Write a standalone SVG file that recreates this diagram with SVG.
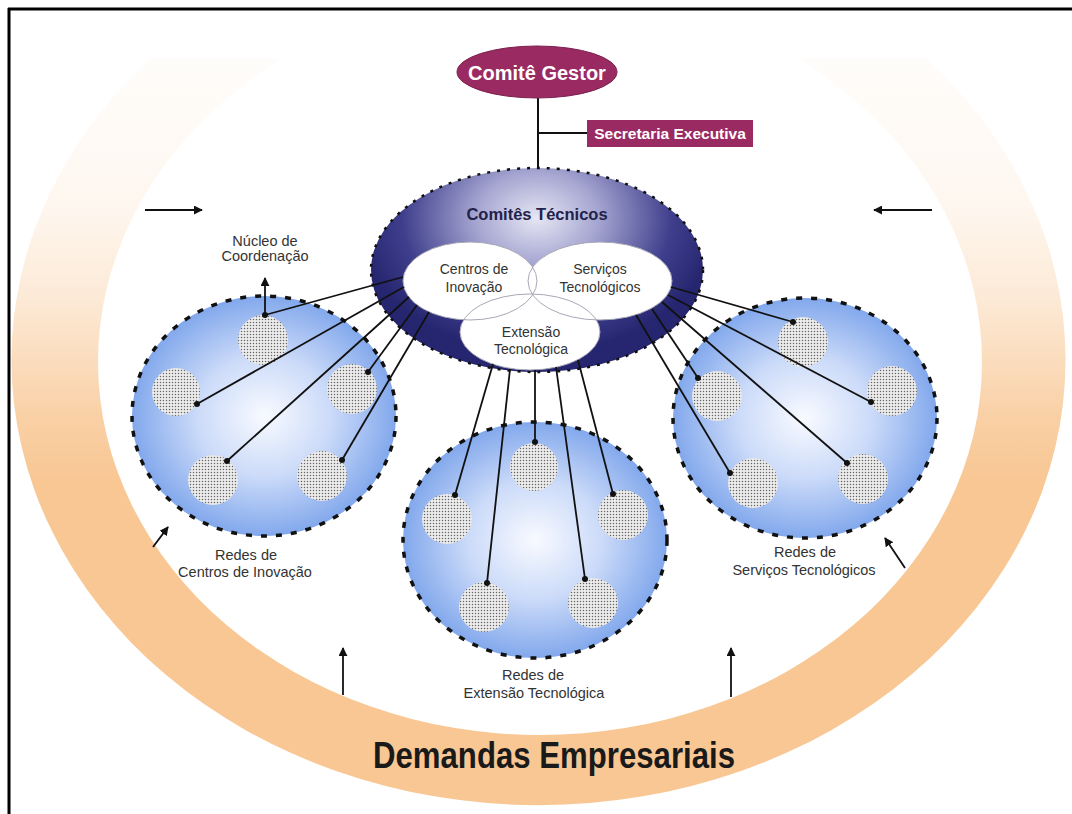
<svg xmlns="http://www.w3.org/2000/svg" width="1072" height="814" viewBox="0 0 1072 814">
<defs>
<style>
text{font-family:"Liberation Sans",Arial,sans-serif}
.lbl{font-size:14.5px;fill:#333;text-anchor:middle}
.venn{font-size:14px;fill:#333;text-anchor:middle}
.conn{stroke:#111;stroke-width:1.8;fill:none}
.dot{fill:#111}
.net{fill:url(#netGrad);stroke:#111;stroke-width:3.5;stroke-dasharray:6 9}
.sub{fill:url(#stip)}
.arr{stroke:#111;stroke-width:1.8;fill:none;marker-end:url(#ah)}
.vfill{fill:#fff}
.vline{fill:none;stroke:#a8a8b8;stroke-width:1}
</style>
<marker id="ah" viewBox="0 0 10 10" refX="9" refY="5" markerWidth="5" markerHeight="5" orient="auto" markerUnits="strokeWidth">
<path d="M0,0 L10,5 L0,10 Z" fill="#111"/>
</marker>
<linearGradient id="ringGrad" gradientUnits="userSpaceOnUse" x1="0" y1="58" x2="0" y2="480">
<stop offset="0" stop-color="#F8C794" stop-opacity="0.04"/>
<stop offset="0.34" stop-color="#F8C794" stop-opacity="0.14"/>
<stop offset="0.57" stop-color="#F8C794" stop-opacity="0.38"/>
<stop offset="0.86" stop-color="#F8C794" stop-opacity="0.85"/>
<stop offset="1" stop-color="#F8C794" stop-opacity="1"/>
</linearGradient>
<radialGradient id="netGrad" cx="0.5" cy="0.5" r="0.5">
<stop offset="0" stop-color="#F8FAFF"/>
<stop offset="0.5" stop-color="#CCDBF9"/>
<stop offset="1" stop-color="#82A8EC"/>
</radialGradient>
<radialGradient id="ctGrad" cx="537" cy="218" r="180" gradientUnits="userSpaceOnUse" gradientTransform="translate(537 218) scale(1 0.75) translate(-537 -218)">
<stop offset="0" stop-color="#E6E6F4"/>
<stop offset="0.35" stop-color="#A3A3D0"/>
<stop offset="0.75" stop-color="#3E3E8C"/>
<stop offset="1" stop-color="#262670"/>
</radialGradient>
<pattern id="stip" width="3" height="3" patternUnits="userSpaceOnUse">
<rect width="3" height="3" fill="#ececec"/>
<circle cx="1.5" cy="1.5" r="0.75" fill="#666"/>
</pattern>
<clipPath id="ringClip"><rect x="0" y="58" width="1072" height="760"/></clipPath>
</defs>

<rect width="1072" height="814" fill="#fff"/>

<g id="frame">
<line x1="8" y1="9" x2="1072" y2="9" stroke="#000" stroke-width="3"/>
<line x1="9" y1="8" x2="9" y2="814" stroke="#000" stroke-width="3"/>
</g>

<g id="demandas-ring">
<path clip-path="url(#ringClip)" fill="url(#ringGrad)" fill-rule="evenodd" d="M11.5 360 A527 445 0 1 0 1065.5 360 A527 445 0 1 0 11.5 360 Z M98 362 A442 373 0 1 0 982 362 A442 373 0 1 0 98 362 Z"/>
<text x="554" y="768" font-size="37" font-weight="bold" fill="#1a1a1a" text-anchor="middle" textLength="362" lengthAdjust="spacingAndGlyphs">Demandas Empresariais</text>
</g>

<g id="arrows">
<line class="arr" x1="145" y1="210" x2="202" y2="210"/>
<line class="arr" x1="932" y1="210" x2="874" y2="210"/>
<line class="arr" x1="153" y1="547" x2="168" y2="527"/>
<line class="arr" x1="905" y1="568" x2="885" y2="538"/>
<line class="arr" x1="343" y1="695" x2="343" y2="648"/>
<line class="arr" x1="731" y1="697" x2="731" y2="648"/>
</g>

<g id="comite-gestor">
<line x1="538" y1="98" x2="538" y2="170" stroke="#111" stroke-width="2"/>
<line x1="538" y1="133" x2="588" y2="133" stroke="#111" stroke-width="2"/>
<ellipse cx="537" cy="72" rx="80" ry="26" fill="#9A2A62" stroke="#7d1f4f" stroke-width="1"/>
<text x="537" y="80" font-size="20" font-weight="bold" fill="#fff" text-anchor="middle">Comitê Gestor</text>
</g>

<g id="secretaria-executiva">
<rect x="587" y="120" width="166" height="27" fill="#9A2A62"/>
<text x="670" y="139" font-size="15.5" font-weight="bold" fill="#fff" text-anchor="middle">Secretaria Executiva</text>
</g>

<g id="rede-centros">
<ellipse class="net" cx="264" cy="416" rx="132" ry="120"/>
<circle class="sub" cx="263" cy="340" r="25"/>
<circle class="sub" cx="176" cy="392" r="24"/>
<circle class="sub" cx="352" cy="389" r="25"/>
<circle class="sub" cx="213" cy="480" r="25"/>
<circle class="sub" cx="322" cy="476" r="25"/>
<text class="lbl" x="246" y="560">Redes de</text>
<text class="lbl" x="245" y="577">Centros de Inovação</text>
</g>

<g id="rede-extensao">
<ellipse class="net" cx="535" cy="540" rx="132" ry="118"/>
<circle class="sub" cx="534" cy="467" r="24"/>
<circle class="sub" cx="447" cy="519" r="25"/>
<circle class="sub" cx="623" cy="515" r="25"/>
<circle class="sub" cx="484" cy="607" r="25"/>
<circle class="sub" cx="593" cy="603" r="25"/>
<text class="lbl" x="533" y="680">Redes de</text>
<text class="lbl" x="534" y="698">Extensão Tecnológica</text>
</g>

<g id="rede-servicos">
<ellipse class="net" cx="805" cy="418" rx="132" ry="120"/>
<circle class="sub" cx="803" cy="342" r="25"/>
<circle class="sub" cx="892" cy="391" r="25"/>
<circle class="sub" cx="717" cy="396" r="25"/>
<circle class="sub" cx="753" cy="483" r="25"/>
<circle class="sub" cx="863" cy="479" r="25"/>
<text class="lbl" x="805" y="557">Redes de</text>
<text class="lbl" x="804" y="575">Serviços Tecnológicos</text>
</g>

<g id="comites-tecnicos">
<ellipse cx="537" cy="270" rx="166" ry="102" fill="url(#ctGrad)" stroke="#111" stroke-width="2.5" stroke-dasharray="3 7"/>
<text x="537" y="220" font-size="16.5" font-weight="bold" fill="#22224a" text-anchor="middle">Comitês Técnicos</text>
<ellipse class="vfill" cx="470" cy="281" rx="67" ry="39"/>
<ellipse class="vfill" cx="600" cy="281" rx="72" ry="39"/>
<ellipse class="vfill" cx="530" cy="332" rx="70" ry="38"/>
<ellipse class="vline" cx="470" cy="281" rx="67" ry="39"/>
<ellipse class="vline" cx="600" cy="281" rx="72" ry="39"/>
<ellipse class="vline" cx="530" cy="332" rx="70" ry="38"/>
<text class="venn" x="474" y="274">Centros de</text>
<text class="venn" x="474" y="292">Inovação</text>
<text class="venn" x="600" y="274">Serviços</text>
<text class="venn" x="600" y="292">Tecnológicos</text>
<text class="venn" x="531" y="337">Extensão</text>
<text class="venn" x="531" y="354">Tecnológica</text>
</g>

<g id="nucleo-coordenacao">
<text class="lbl" x="265" y="246">Núcleo de</text>
<text class="lbl" x="265" y="261">Coordenação</text>
</g>

<g id="connectors">
<line class="arr" x1="265" y1="315" x2="265" y2="278"/>
<line class="conn" x1="403" y1="277" x2="265" y2="315"/>
<line class="conn" x1="404" y1="287" x2="197" y2="404"/>
<line class="conn" x1="409" y1="297" x2="227" y2="461"/>
<line class="conn" x1="417" y1="305" x2="368" y2="372"/>
<line class="conn" x1="429" y1="312" x2="342" y2="460"/>
<line class="conn" x1="493" y1="364" x2="455" y2="495"/>
<line class="conn" x1="510" y1="369" x2="487" y2="583"/>
<line class="conn" x1="535" y1="370" x2="535" y2="442"/>
<line class="conn" x1="556" y1="367" x2="585" y2="579"/>
<line class="conn" x1="578" y1="360" x2="613" y2="494"/>
<line class="conn" x1="671" y1="287" x2="793" y2="322"/>
<line class="conn" x1="668" y1="295" x2="871" y2="402"/>
<line class="conn" x1="662" y1="302" x2="847" y2="463"/>
<line class="conn" x1="652" y1="309" x2="698" y2="378"/>
<line class="conn" x1="636" y1="315" x2="730" y2="473"/>
<circle class="dot" cx="265" cy="315" r="3"/>
<circle class="dot" cx="197" cy="404" r="3"/>
<circle class="dot" cx="227" cy="461" r="3"/>
<circle class="dot" cx="368" cy="372" r="3"/>
<circle class="dot" cx="342" cy="460" r="3"/>
<circle class="dot" cx="455" cy="495" r="3"/>
<circle class="dot" cx="487" cy="583" r="3"/>
<circle class="dot" cx="535" cy="442" r="3"/>
<circle class="dot" cx="585" cy="579" r="3"/>
<circle class="dot" cx="613" cy="494" r="3"/>
<circle class="dot" cx="793" cy="322" r="3"/>
<circle class="dot" cx="871" cy="402" r="3"/>
<circle class="dot" cx="847" cy="463" r="3"/>
<circle class="dot" cx="698" cy="378" r="3"/>
<circle class="dot" cx="730" cy="473" r="3"/>
</g>
</svg>
